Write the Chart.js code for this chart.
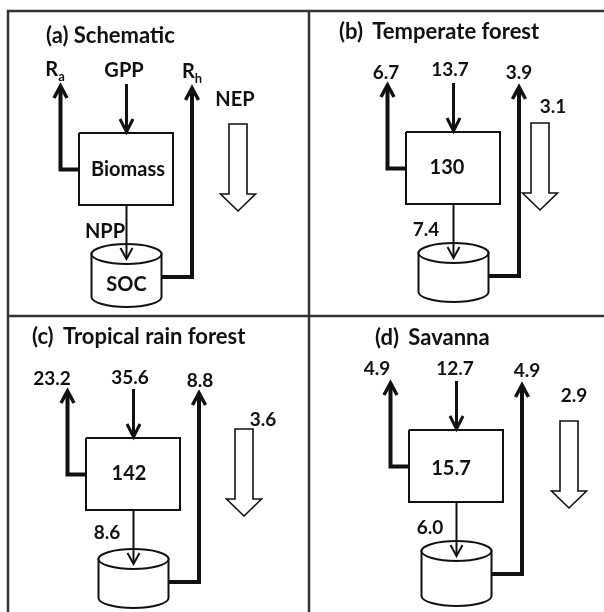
<!DOCTYPE html>
<html>
<head>
<meta charset="utf-8">
<script src="https://cdn.jsdelivr.net/npm/chart.js@4"></script>
<style>
  html, body { margin: 0; padding: 0; background: #fff; }
  #wrap { width: 604px; height: 612px; }
</style>
</head>
<body>
<div id="wrap"><canvas id="diagram" width="604" height="612"></canvas></div>
<script>
// carbon fluxes per panel (a is the schematic, names instead of numbers)
const panelTags = ['(a)', '(b)', '(c)', '(d)'];
const panelTitles = ['Schematic', 'Temperate forest', 'Tropical rain forest', 'Savanna'];
const gppValues = [null, 13.7, 35.6, 12.7];
const raValues = [null, 6.7, 23.2, 4.9];
const rhValues = [null, 3.9, 8.8, 4.9];
const nppValues = [null, 7.4, 8.6, 6.0];
const nepValues = [null, 3.1, 3.6, 2.9];
const biomassValues = [null, 130, 142, 15.7];

// layout (chart units == px on the 604x612 canvas)
const boxAnchors = [[79, 133], [406, 132], [86, 438], [409, 430]];
const nepOffsets = [159, 134, 158, 160];
const cylBottoms = [164, 160, 160, 166];
const titlePos = [[46, 36], [339, 32], [32, 337], [375, 338]];
const raLabelPos = [[55, 72], [386, 73], [52, 379], [377, 369]];
const gppLabelPos = [[124, 71], [450, 70], [130, 378], [455, 369]];
const rhLabelPos = [[192, 74], [519, 73], [200, 381], [527, 371]];
const nppLabelPos = [[105, 232], [426, 230], [107, 533], [430, 528]];
const nepLabelPos = [[235, 100], [553, 107], [263, 420], [574, 396]];
const boxTextPos = [[128, 170], [447, 168], [129, 474], [451, 469]];

const BOX_W = 94, BOX_H = 72;
const INK = '#111';
const FONT = 'Lato, "Open Sans", sans-serif';

function geom(i) {
  const [bx, by] = boxAnchors[i];
  return {
    bx, by,
    raX: bx - 18.5, raTip: by - 47, raCorner: by + 36.5,
    gX: bx + 47.5, gTop: by - 49,
    cylL: bx + 12.5, cylR: bx + 82.5, cylTop: by + 121, cylBot: by + cylBottoms[i], cylRy: 10,
    nppTip: by + 126,
    rhX: bx + 113, rhY: by + 144, rhTip: by - 45,
    nepX: bx + nepOffsets[i], nepTop: by - 9, nepBase: by + 61, nepTip: by + 78
  };
}

function seg(points, width, color) {
  return {
    type: 'line',
    data: points.map(p => ({ x: p[0], y: p[1] })),
    borderColor: color || INK,
    borderWidth: width,
    pointRadius: 0,
    fill: false,
    tension: 0,
    borderJoinStyle: 'miter',
    borderCapStyle: 'butt'
  };
}

const datasets = [];
// panel frame
const FRAME = '#333';
datasets.push(seg([[8, 612], [8, 11], [604, 11]], 2.5, FRAME));
datasets.push(seg([[309, 11], [309, 612]], 2.5, FRAME));
datasets.push(seg([[8, 316], [604, 316]], 2.5, FRAME));

for (let i = 0; i < 4; i++) {
  const g = geom(i);
  datasets.push(seg([[g.raX, g.raTip + 2], [g.raX, g.raCorner], [g.bx, g.raCorner]], 4));
  datasets.push(seg([[g.gX, g.gTop], [g.gX, g.by - 2]], 3));
  datasets.push(seg([[g.gX, g.by + BOX_H], [g.gX, g.nppTip - 1]], 2));
  datasets.push(seg([[g.cylR, g.rhY], [g.rhX, g.rhY], [g.rhX, g.rhTip + 2]], 4));
  datasets.push(seg([[g.bx, g.by], [g.bx + BOX_W, g.by], [g.bx + BOX_W, g.by + BOX_H],
    [g.bx, g.by + BOX_H], [g.bx, g.by]], 2));
}

function fmt(v, digits) {
  return digits ? v.toFixed(digits) : String(v);
}

const diagramPlugin = {
  id: 'diagram',
  beforeDatasetsDraw(chart) {
    const { ctx, scales: { x, y } } = chart;
    const px = v => x.getPixelForValue(v);
    const py = v => y.getPixelForValue(v);
    ctx.save();
    for (let i = 0; i < 4; i++) {
      const g = geom(i);
      const cx = px((g.cylL + g.cylR) / 2);
      const rx = px(g.cylR) - cx;
      const ry = py(g.cylTop + g.cylRy) - py(g.cylTop);
      ctx.lineWidth = 2;
      ctx.strokeStyle = INK;
      ctx.fillStyle = '#fff';
      ctx.beginPath();
      ctx.moveTo(px(g.cylL), py(g.cylTop));
      ctx.lineTo(px(g.cylL), py(g.cylBot));
      ctx.ellipse(cx, py(g.cylBot), rx, ry, 0, Math.PI, 0, true);
      ctx.lineTo(px(g.cylR), py(g.cylTop));
      ctx.closePath();
      ctx.fill();
      ctx.stroke();
      ctx.beginPath();
      ctx.ellipse(cx, py(g.cylTop), rx, ry, 0, 0, Math.PI * 2);
      ctx.fill();
      ctx.stroke();
    }
    ctx.restore();
  },
  afterDatasetsDraw(chart) {
    const { ctx, scales: { x, y } } = chart;
    const px = v => x.getPixelForValue(v);
    const py = v => y.getPixelForValue(v);

    function chevron(cx, tipY, dir, half, len, w) {
      ctx.lineWidth = w;
      ctx.lineJoin = 'miter';
      ctx.lineCap = 'butt';
      ctx.beginPath();
      ctx.moveTo(px(cx - half), py(tipY - dir * len));
      ctx.lineTo(px(cx), py(tipY));
      ctx.lineTo(px(cx + half), py(tipY - dir * len));
      ctx.stroke();
    }

    function text(str, pos, size, align) {
      ctx.font = 'bold ' + size + 'px ' + FONT;
      ctx.textAlign = align || 'center';
      ctx.textBaseline = 'middle';
      ctx.fillText(str, px(pos[0]), py(pos[1]));
    }

    function rLabel(sub, pos) {
      ctx.font = 'bold 20px ' + FONT;
      const wR = ctx.measureText('R').width;
      ctx.font = 'bold 13px ' + FONT;
      const wS = ctx.measureText(sub).width;
      const left = px(pos[0]) - (wR + wS) / 2;
      ctx.textAlign = 'left';
      ctx.textBaseline = 'middle';
      ctx.font = 'bold 20px ' + FONT;
      ctx.fillText('R', left, py(pos[1]) - 2);
      ctx.font = 'bold 13px ' + FONT;
      ctx.fillText(sub, left + wR, py(pos[1]) + 5);
    }

    ctx.save();
    ctx.strokeStyle = INK;
    ctx.fillStyle = INK;
    for (let i = 0; i < 4; i++) {
      const g = geom(i);
      // arrow heads
      chevron(g.raX, g.raTip, -1, 6.5, 12, 3.5);
      chevron(g.rhX, g.rhTip, -1, 6.5, 12, 3.5);
      chevron(g.gX, g.by - 1, 1, 6.5, 13, 3);
      chevron(g.gX, g.nppTip, 1, 6, 11, 2);

      // hollow NEP arrow
      ctx.lineWidth = 1.6;
      ctx.lineJoin = 'miter';
      ctx.fillStyle = '#fff';
      ctx.beginPath();
      ctx.moveTo(px(g.nepX - 9), py(g.nepTop));
      ctx.lineTo(px(g.nepX + 9), py(g.nepTop));
      ctx.lineTo(px(g.nepX + 9), py(g.nepBase));
      ctx.lineTo(px(g.nepX + 17.5), py(g.nepBase));
      ctx.lineTo(px(g.nepX), py(g.nepTip));
      ctx.lineTo(px(g.nepX - 17.5), py(g.nepBase));
      ctx.lineTo(px(g.nepX - 9), py(g.nepBase));
      ctx.closePath();
      ctx.fill();
      ctx.stroke();
      ctx.fillStyle = INK;

      // title
      ctx.font = 'bold 22px ' + FONT;
      ctx.textAlign = 'left';
      ctx.textBaseline = 'middle';
      const tag = panelTags[i];
      ctx.fillText(tag, px(titlePos[i][0]), py(titlePos[i][1]));
      const tagW = ctx.measureText(tag + ' ').width;
      ctx.fillText(panelTitles[i], px(titlePos[i][0]) + tagW + (i === 0 ? 0 : 4), py(titlePos[i][1]));

      if (i === 0) {
        rLabel('a', raLabelPos[i]);
        rLabel('h', rhLabelPos[i]);
        text('GPP', gppLabelPos[i], 20);
        text('NPP', nppLabelPos[i], 20);
        text('NEP', nepLabelPos[i], 20);
        text('Biomass', boxTextPos[i], 20);
        text('SOC', [(g.cylL + g.cylR) / 2, g.by + 152], 20);
      } else {
        text(fmt(raValues[i], 1), raLabelPos[i], 19);
        text(fmt(gppValues[i], 1), gppLabelPos[i], 19);
        text(fmt(rhValues[i], 1), rhLabelPos[i], 19);
        text(fmt(nppValues[i], 1), nppLabelPos[i], 19);
        text(fmt(nepValues[i], 1), nepLabelPos[i], 19);
        text(fmt(biomassValues[i]), boxTextPos[i], 20);
      }
    }
    ctx.restore();
  }
};

new Chart(document.getElementById('diagram'), {
  type: 'scatter',
  data: { datasets },
  options: {
    responsive: false,
    animation: false,
    events: [],
    layout: { padding: 0 },
    plugins: { legend: { display: false }, tooltip: { enabled: false } },
    scales: {
      x: { type: 'linear', min: 0, max: 604, display: false },
      y: { type: 'linear', min: 0, max: 612, reverse: true, display: false }
    }
  },
  plugins: [diagramPlugin]
});
</script>
</body>
</html>
